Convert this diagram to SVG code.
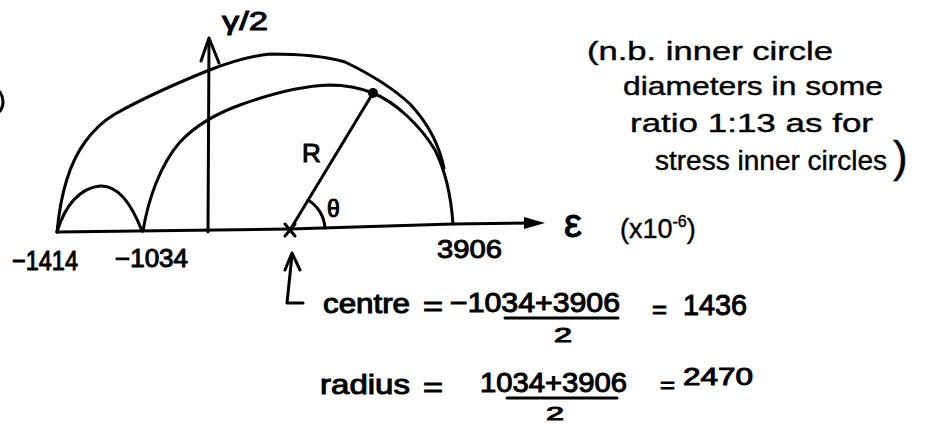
<svg xmlns="http://www.w3.org/2000/svg" width="930" height="425" viewBox="0 0 930 425">
<style>
.s{fill:none;stroke:#000;stroke-width:3;stroke-linecap:round;stroke-linejoin:round}
.t{font-family:"Liberation Sans","DejaVu Sans",sans-serif;fill:#000;stroke:#000;stroke-width:1}
.n{font-family:"Liberation Sans","DejaVu Sans",sans-serif;fill:#000;stroke:#000;stroke-width:0.4}
</style>
<rect width="930" height="425" fill="#fff"/>
<g id="edge-mark"><path class="s" d="M0,92 C4,98 4,106 0,111"/></g>
<g id="connectors">
  <path class="s" d="M57,232 L290,229 L453,224 L535,223"/>
  <polygon points="524,217 545,223 524,229" fill="#000"/>
  <path class="s" d="M208,232 L209,40"/>
  <path class="s" d="M201,61 L209,38 L219,63"/>
  <path class="s" d="M290,230 L373,93"/>
  <path class="s" d="M308,200 A35,35 0 0 1 325,228"/>
  <path class="s" d="M303,303 L287,303 L292,255"/>
  <path class="s" d="M285,270 L292,253 L300,270"/>
</g>
<g id="outer-circle"><path class="s" d="M57,232 C60,200 68,165 85,142 C95,128 105,120 115,114 C140,100 175,84 207,71 C230,62 250,56 270,54 C300,54 325,56 345,62 C370,74 395,90 410,104 C425,120 436,138 442,160 L444,168"/></g>
<g id="big-circle"><path class="s" d="M143,231 C148,200 160,165 180,142 C195,126 215,114 240,105 C270,94 300,86 330,85 C345,85 360,88 373,93 C395,102 420,125 435,150 C445,170 451,195 453,224"/></g>
<g id="small-circle"><path class="s" d="M57,232 C65,205 80,188 100,186 C118,185 132,205 142,231"/></g>
<g id="centre-mark"><path class="s" d="M285,224 L295,236 M295,224 L285,236"/></g>
<g id="point"><circle cx="373" cy="93" r="5" fill="#000"/></g>
<g id="labels" class="t">
  <text x="222" y="30" font-size="26" textLength="46" lengthAdjust="spacingAndGlyphs">γ/2</text>
  <text x="302" y="162" font-size="26">R</text>
  <text x="327" y="217" font-size="23">θ</text>
  <text x="12" y="270" font-size="28" textLength="66" lengthAdjust="spacingAndGlyphs">−1414</text>
  <text x="115" y="267" font-size="25" textLength="73" lengthAdjust="spacingAndGlyphs">−1034</text>
  <text x="437" y="258" font-size="26" textLength="65" lengthAdjust="spacingAndGlyphs">3906</text>
  <text x="564" y="237" font-size="40">ε</text>
  <text x="620" y="238" font-size="27" class="n">(x10<tspan font-size="16" dy="-11">-6</tspan><tspan dy="11">)</tspan></text>
</g>
<g id="note" class="n" font-size="26">
  <text x="587" y="60" textLength="246" lengthAdjust="spacingAndGlyphs">(n.b. inner circle</text>
  <text x="623" y="95" textLength="260" lengthAdjust="spacingAndGlyphs">diameters in some</text>
  <text x="630" y="132" textLength="243" lengthAdjust="spacingAndGlyphs">ratio 1:13 as for</text>
  <text x="655" y="170" font-size="27" textLength="232" lengthAdjust="spacingAndGlyphs">stress inner circles</text>
  <text x="893" y="172" font-size="44">)</text>
</g>
<g id="equations" class="t" font-size="27">
  <text x="323" y="313" textLength="87" lengthAdjust="spacingAndGlyphs">centre</text>
  <text x="423" y="316" textLength="20" lengthAdjust="spacingAndGlyphs">=</text>
  <text x="450" y="312" textLength="170" lengthAdjust="spacingAndGlyphs">−1034+3906</text>
  <path class="s" d="M505,318 L618,318"/>
  <text x="554" y="342" font-size="20" textLength="18" lengthAdjust="spacingAndGlyphs">2</text>
  <text x="652" y="318" font-size="25" textLength="15" lengthAdjust="spacingAndGlyphs">=</text>
  <text x="683" y="315" font-size="30" textLength="64" lengthAdjust="spacingAndGlyphs">1436</text>
  <text x="320" y="394" font-size="28" textLength="90" lengthAdjust="spacingAndGlyphs">radius</text>
  <text x="423" y="397" textLength="20" lengthAdjust="spacingAndGlyphs">=</text>
  <text x="480" y="392" textLength="147" lengthAdjust="spacingAndGlyphs">1034+3906</text>
  <path class="s" d="M507,398 L617,398"/>
  <text x="546" y="420" font-size="19" textLength="18" lengthAdjust="spacingAndGlyphs">2</text>
  <text x="660" y="393" font-size="22" textLength="15" lengthAdjust="spacingAndGlyphs">=</text>
  <text x="683" y="385" font-size="24" textLength="70" lengthAdjust="spacingAndGlyphs">2470</text>
</g>
</svg>
